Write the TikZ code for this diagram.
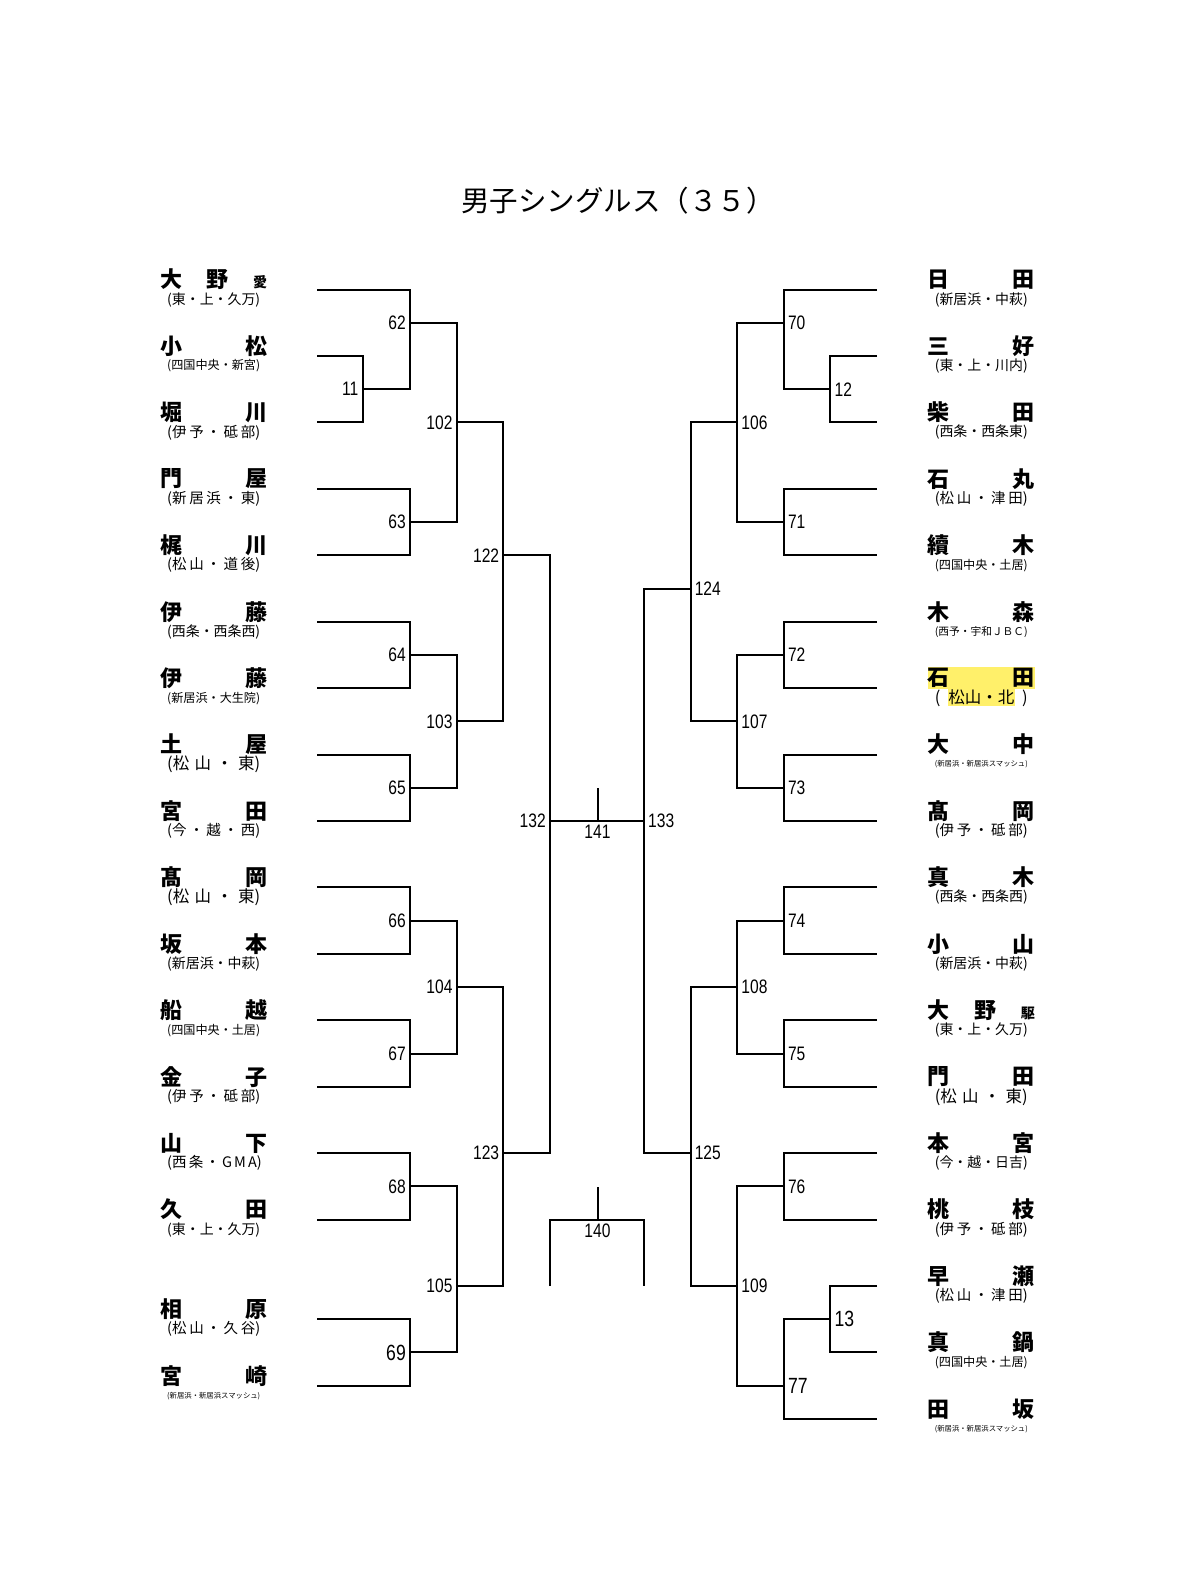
\documentclass[tikz,border=0pt]{standalone}
\usepackage{fontspec}
\usepackage{graphicx}
\newfontfamily\cjkfont{Noto Sans CJK JP}
\newfontfamily\numfont[FakeStretch=0.8]{Liberation Sans}
\definecolor{hl}{HTML}{FFF06A}
\newcommand\jnmbox[1]{\makebox[107pt]{#1}}
% long affiliations: shrink to width
\newcommand\jaffbox[1]{\resizebox{93pt}{!}{#1}}
% short affiliations: spread to width (chars separated by spaces)
\newcommand\jaffsp[1]{\makebox[93pt][s]{#1}}
\newcommand\jaffbig[1]{{\fontsize{16.5}{18}\selectfont\makebox[93pt][s]{#1}}}
\newcommand\jsmall[1]{{\fontsize{14}{14}\selectfont #1}}
\tikzset{
  br/.style={line width=2pt},
  nmst/.style={inner sep=0pt, font=\cjkfont\bfseries\fontsize{22}{24}\selectfont},
  afst/.style={inner sep=0pt, font=\cjkfont\fontsize{14.5}{16}\selectfont},
  numl/.style={anchor=east, inner sep=0pt, font=\numfont\fontsize{19.5}{20}\selectfont},
  numr/.style={anchor=west, inner sep=0pt, font=\numfont\fontsize{19.5}{20}\selectfont},
  numc/.style={anchor=north, inner sep=0pt, font=\numfont\fontsize{19.5}{20}\selectfont},
  big/.style={font=\numfont\fontsize{22}{24}\selectfont},
  titlest/.style={inner sep=0pt, font=\cjkfont\fontsize{28.5}{30}\selectfont}
}
% left entrant: id, y index, name, affiliation (already boxed)
\newcommand\entL[4]{%
  \coordinate (L#1) at (317,{289.6+66.43*#2});
  \node[nmst] (nL#1) at (213.7,{279.6+66.43*#2}) {\jnmbox{#3}};
  \node[afst] (aL#1) at (213.7,{299.6+66.43*#2}) {#4};}
\newcommand\entR[4]{%
  \coordinate (R#1) at (877,{289.6+66.43*#2});
  \node[nmst] (nR#1) at (981.3,{279.6+66.43*#2}) {\jnmbox{#3}};
  \node[afst] (aR#1) at (981.3,{299.6+66.43*#2}) {#4};}
% match: [style] number, x, y index, child A, child B
\newcommand\matchL[6][]{%
  \coordinate (m#2) at (#3,{289.6+66.43*#4});
  \draw[br] (#5) -- (#5 -| m#2) -- (#6 -| m#2) -- (#6);
  \node[numl,#1] (lab#2) at ([xshift=-4pt]m#2) {#2};}
\newcommand\matchR[6][]{%
  \coordinate (m#2) at (#3,{289.6+66.43*#4});
  \draw[br] (#5) -- (#5 -| m#2) -- (#6 -| m#2) -- (#6);
  \node[numr,#1] (lab#2) at ([xshift=4pt]m#2) {#2};}
\begin{document}
\begin{tikzpicture}[x=1pt,y=-1pt]
\useasboundingbox (0,0) rectangle (1200,1588);
\fill[white] (0,0) rectangle (1200,1588);
\node[titlest] (title) at (618,201) {男子シングルス（３５）};

% ---- left entrants ----
\entL{0}{0}{大\hfill 野\hfill\jsmall{愛}}{\jaffbox{(東・上・久万)}}
\entL{1}{1}{小\hfill 松}{\jaffbox{(四国中央・新宮)}}
\entL{2}{2}{堀\hfill 川}{\jaffsp{(伊 予 ・ 砥 部)}}
\entL{3}{3}{門\hfill 屋}{\jaffsp{(新 居 浜 ・ 東)}}
\entL{4}{4}{梶\hfill 川}{\jaffsp{(松 山 ・ 道 後)}}
\entL{5}{5}{伊\hfill 藤}{\jaffbox{(西条・西条西)}}
\entL{6}{6}{伊\hfill 藤}{\jaffbox{(新居浜・大生院)}}
\entL{7}{7}{土\hfill 屋}{\jaffbig{(松 山 ・ 東)}}
\entL{8}{8}{宮\hfill 田}{\jaffsp{(今 ・ 越 ・ 西)}}
\entL{9}{9}{髙\hfill 岡}{\jaffbig{(松 山 ・ 東)}}
\entL{10}{10}{坂\hfill 本}{\jaffbox{(新居浜・中萩)}}
\entL{11}{11}{船\hfill 越}{\jaffbox{(四国中央・土居)}}
\entL{12}{12}{金\hfill 子}{\jaffsp{(伊 予 ・ 砥 部)}}
\entL{13}{13}{山\hfill 下}{\jaffsp{(西 条 ・ G M A)}}
\entL{14}{14}{久\hfill 田}{\jaffbox{(東・上・久万)}}
\entL{15}{15.5}{相\hfill 原}{\jaffsp{(松 山 ・ 久 谷)}}
\entL{16}{16.5}{宮\hfill 崎}{\jaffbox{(新居浜・新居浜スマッシュ)}}

% ---- right entrants ----
\entR{0}{0}{日\hfill 田}{\jaffbox{(新居浜・中萩)}}
\entR{1}{1}{三\hfill 好}{\jaffbox{(東・上・川内)}}
\entR{2}{2}{柴\hfill 田}{\jaffbox{(西条・西条東)}}
\entR{3}{3}{石\hfill 丸}{\jaffsp{(松 山 ・ 津 田)}}
\entR{4}{4}{續\hfill 木}{\jaffbox{(四国中央・土居)}}
\entR{5}{5}{木\hfill 森}{\jaffbox{(西予・宇和ＪＢＣ)}}
\coordinate (R6) at (877,{289.6+66.43*6});
\node[nmst, fill=hl, inner ysep=1pt] (nR6) at (981.3,{279.6+66.43*6}) {\jnmbox{石\hfill 田}};
\node[afst] (aR6) at (981.3,{299.6+66.43*6}) {{\fontsize{16.5}{18}\selectfont\makebox[93pt]{(\hfill\setlength\fboxsep{0.8pt}\colorbox{hl}{松山・北}\hfill)}}};
\entR{7}{7}{大\hfill 中}{\jaffbox{(新居浜・新居浜スマッシュ)}}
\entR{8}{8}{髙\hfill 岡}{\jaffsp{(伊 予 ・ 砥 部)}}
\entR{9}{9}{真\hfill 木}{\jaffbox{(西条・西条西)}}
\entR{10}{10}{小\hfill 山}{\jaffbox{(新居浜・中萩)}}
\entR{11}{11}{大\hfill 野\hfill\jsmall{駆}}{\jaffbox{(東・上・久万)}}
\entR{12}{12}{門\hfill 田}{\jaffbig{(松 山 ・ 東)}}
\entR{13}{13}{本\hfill 宮}{\jaffbox{(今・越・日吉)}}
\entR{14}{14}{桃\hfill 枝}{\jaffsp{(伊 予 ・ 砥 部)}}
\entR{15}{15}{早\hfill 瀬}{\jaffsp{(松 山 ・ 津 田)}}
\entR{16}{16}{真\hfill 鍋}{\jaffbox{(四国中央・土居)}}
\entR{17}{17}{田\hfill 坂}{\jaffbox{(新居浜・新居浜スマッシュ)}}

% ---- left matches ----
\matchL{11}{362.5}{1.5}{L1}{L2}
\matchL{62}{410}{0.5}{L0}{m11}
\matchL{63}{410}{3.5}{L3}{L4}
\matchL{64}{410}{5.5}{L5}{L6}
\matchL{65}{410}{7.5}{L7}{L8}
\matchL{66}{410}{9.5}{L9}{L10}
\matchL{67}{410}{11.5}{L11}{L12}
\matchL{68}{410}{13.5}{L13}{L14}
\matchL[big]{69}{410}{16}{L15}{L16}
\matchL{102}{456.7}{2}{m62}{m63}
\matchL{103}{456.7}{6.5}{m64}{m65}
\matchL{104}{456.7}{10.5}{m66}{m67}
\matchL{105}{456.7}{15}{m68}{m69}
\matchL{122}{503.3}{4}{m102}{m103}
\matchL{123}{503.3}{13}{m104}{m105}
\matchL{132}{549.9}{8}{m122}{m123}

% ---- right matches ----
\matchR{12}{830.4}{1.5}{R1}{R2}
\matchR{70}{783.8}{0.5}{R0}{m12}
\matchR{71}{783.8}{3.5}{R3}{R4}
\matchR{72}{783.8}{5.5}{R5}{R6}
\matchR{73}{783.8}{7.5}{R7}{R8}
\matchR{74}{783.8}{9.5}{R9}{R10}
\matchR{75}{783.8}{11.5}{R11}{R12}
\matchR{76}{783.8}{13.5}{R13}{R14}
\matchR[big]{13}{830.4}{15.5}{R15}{R16}
\matchR[big]{77}{783.8}{16.5}{m13}{R17}
\matchR{106}{737.2}{2}{m70}{m71}
\matchR{107}{737.2}{6.5}{m72}{m73}
\matchR{108}{737.2}{10.5}{m74}{m75}
\matchR{109}{737.2}{15}{m76}{m77}
\matchR{124}{690.6}{4.5}{m106}{m107}
\matchR{125}{690.6}{13}{m108}{m109}
\matchR{133}{644}{8}{m124}{m125}

% ---- final 141 ----
\draw[br] (m132) -- (m133);
\coordinate (t141) at (597.5,788);
\draw[br] (t141) -- (t141 |- m132);
\node[numc] (lab141) at ([yshift=-4pt]t141 |- m132) {141};

% ---- 140 ----
\coordinate (q140a) at (549.9,1219.6);
\coordinate (q140b) at (644,1219.6);
\coordinate (p140a) at (549.9,1286);
\coordinate (p140b) at (644,1286);
\coordinate (t140) at (597.5,1187);
\draw[br] (p140a) -- (q140a) -- (q140b) -- (p140b);
\draw[br] (t140) -- (t140 |- q140a);
\node[numc] (lab140) at ([yshift=-4pt]t140 |- q140a) {140};
\end{tikzpicture}
\end{document}
